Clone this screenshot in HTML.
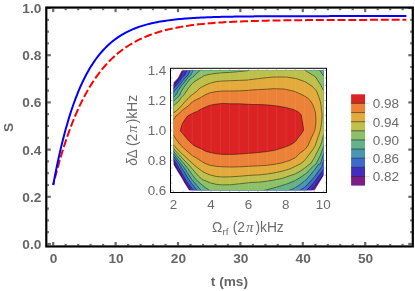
<!DOCTYPE html>
<html><head><meta charset="utf-8"><title>plot</title>
<style>html,body{margin:0;padding:0;background:#fff}svg{display:block}text{font-family:"Liberation Sans",Arial,sans-serif}</style></head><body>
<svg width="415" height="291" viewBox="0 0 415 291">
<rect width="415" height="291" fill="#fff"/>
<defs><clipPath id="c"><polygon points="173.60,82.60 177.90,78.10 181.70,70.50 323.50,70.50 323.50,175.50 320.00,181.50 317.20,186.10 314.70,190.30 189.00,190.30 187.60,188.00 184.70,183.40 181.30,177.50 177.10,170.70 173.60,164.80"/></clipPath></defs>
<polyline points="53.20,185.00 53.27,184.70 53.42,184.09 53.63,183.27 53.88,182.27 54.17,181.11 54.49,179.82 54.85,178.40 55.25,176.87 55.67,175.23 56.13,173.50 56.61,171.68 57.12,169.79 57.65,167.82 58.21,165.79 58.80,163.70 59.41,161.56 60.04,159.36 60.70,157.13 61.37,154.85 62.07,152.54 62.79,150.21 63.53,147.85 64.29,145.46 65.08,143.07 65.88,140.65 66.70,138.23 67.54,135.80 68.40,133.37 69.28,130.94 70.17,128.51 71.09,126.09 72.02,123.67 72.97,121.27 73.94,118.88 74.92,116.50 75.92,114.15 76.94,111.81 77.97,109.49 79.03,107.19 80.09,104.92 81.18,102.68 82.28,100.46 83.39,98.27 84.52,96.11 85.67,93.99 86.83,91.89 88.01,89.83 89.20,87.80 90.41,85.81 91.63,83.85 92.87,81.92 94.12,80.03 95.39,78.18 96.67,76.37 97.96,74.59 99.27,72.85 100.60,71.15 101.93,69.48 103.29,67.85 104.65,66.26 106.03,64.71 107.42,63.19 108.83,61.72 110.25,60.27 111.68,58.87 113.13,57.50 114.59,56.17 116.06,54.87 117.54,53.61 119.04,52.38 120.55,51.19 122.08,50.03 123.62,48.91 125.17,47.82 126.73,46.76 128.30,45.73 129.89,44.74 131.49,43.77 133.10,42.84 134.73,41.93 136.36,41.06 138.01,40.21 139.67,39.39 141.35,38.60 143.03,37.84 144.73,37.10 146.44,36.38 148.16,35.70 149.89,35.03 151.63,34.39 153.39,33.77 155.16,33.18 156.94,32.60 158.73,32.05 160.53,31.52 162.34,31.00 164.17,30.51 166.00,30.04 167.85,29.58 169.71,29.14 171.58,28.72 173.46,28.32 175.35,27.93 177.25,27.56 179.17,27.20 181.09,26.86 183.03,26.53 184.97,26.21 186.93,25.91 188.90,25.62 190.88,25.34 192.87,25.08 194.87,24.82 196.88,24.58 198.90,24.35 200.94,24.13 202.98,23.91 205.03,23.71 207.10,23.52 209.17,23.33 211.26,23.15 213.35,22.99 215.46,22.82 217.57,22.67 219.70,22.52 221.83,22.38 223.98,22.25 226.14,22.12 228.30,22.00 230.48,21.89 232.67,21.78 234.87,21.67 237.07,21.58 239.29,21.48 241.52,21.39 243.75,21.31 246.00,21.22 248.26,21.15 250.52,21.07 252.80,21.00 255.08,20.94 257.38,20.88 259.69,20.82 262.00,20.76 264.33,20.71 266.66,20.66 269.00,20.61 271.36,20.56 273.72,20.52 276.09,20.48 278.48,20.44 280.87,20.40 283.27,20.37 285.68,20.34 288.10,20.30 290.53,20.28 292.97,20.25 295.42,20.22 297.87,20.20 300.34,20.17 302.82,20.15 305.30,20.13 307.80,20.11 310.30,20.09 312.81,20.07 315.34,20.06 317.87,20.04 320.41,20.03 322.96,20.01 325.51,20.00 328.08,19.99 330.66,19.98 333.24,19.97 335.84,19.96 338.44,19.95 341.05,19.94 343.68,19.93 346.31,19.92 348.95,19.91 351.59,19.91 354.25,19.90 356.92,19.89 359.59,19.89 362.27,19.88 364.97,19.88 367.67,19.87 370.38,19.87 373.09,19.86 375.82,19.86 378.56,19.85 381.30,19.85 384.05,19.85 386.81,19.84 389.58,19.84 392.36,19.84 395.15,19.84 397.95,19.83 400.75,19.83 403.56,19.83 406.38,19.83" fill="none" stroke="#f00" stroke-width="2" stroke-dasharray="8 2.83" stroke-dashoffset="3.9"/>
<polyline points="53.20,185.00 53.27,184.60 53.42,183.80 53.63,182.71 53.88,181.38 54.17,179.85 54.49,178.15 54.85,176.28 55.25,174.27 55.67,172.13 56.13,169.88 56.61,167.52 57.12,165.07 57.65,162.53 58.21,159.93 58.80,157.25 59.41,154.53 60.04,151.75 60.70,148.93 61.37,146.08 62.07,143.20 62.79,140.30 63.53,137.38 64.29,134.46 65.08,131.53 65.88,128.60 66.70,125.68 67.54,122.77 68.40,119.87 69.28,116.99 70.17,114.13 71.09,111.30 72.02,108.50 72.97,105.73 73.94,102.99 74.92,100.30 75.92,97.64 76.94,95.02 77.97,92.44 79.03,89.91 80.09,87.43 81.18,85.00 82.28,82.61 83.39,80.27 84.52,77.99 85.67,75.75 86.83,73.57 88.01,71.45 89.20,69.37 90.41,67.35 91.63,65.38 92.87,63.46 94.12,61.60 95.39,59.79 96.67,58.03 97.96,56.33 99.27,54.67 100.60,53.07 101.93,51.52 103.29,50.02 104.65,48.57 106.03,47.16 107.42,45.81 108.83,44.50 110.25,43.24 111.68,42.02 113.13,40.84 114.59,39.71 116.06,38.62 117.54,37.58 119.04,36.57 120.55,35.60 122.08,34.67 123.62,33.78 125.17,32.92 126.73,32.10 128.30,31.31 129.89,30.56 131.49,29.84 133.10,29.14 134.73,28.48 136.36,27.85 138.01,27.24 139.67,26.67 141.35,26.12 143.03,25.59 144.73,25.09 146.44,24.61 148.16,24.15 149.89,23.72 151.63,23.30 153.39,22.91 155.16,22.53 156.94,22.18 158.73,21.84 160.53,21.52 162.34,21.21 164.17,20.92 166.00,20.64 167.85,20.38 169.71,20.14 171.58,19.90 173.46,19.68 175.35,19.47 177.25,19.27 179.17,19.08 181.09,18.90 183.03,18.73 184.97,18.57 186.93,18.42 188.90,18.28 190.88,18.15 192.87,18.02 194.87,17.90 196.88,17.79 198.90,17.68 200.94,17.58 202.98,17.49 205.03,17.40 207.10,17.32 209.17,17.24 211.26,17.17 213.35,17.10 215.46,17.03 217.57,16.97 219.70,16.91 221.83,16.86 223.98,16.81 226.14,16.76 228.30,16.72 230.48,16.68 232.67,16.64 234.87,16.60 237.07,16.57 239.29,16.53 241.52,16.50 243.75,16.48 246.00,16.45 248.26,16.43 250.52,16.40 252.80,16.38 255.08,16.36 257.38,16.34 259.69,16.33 262.00,16.31 264.33,16.29 266.66,16.28 269.00,16.27 271.36,16.26 273.72,16.24 276.09,16.23 278.48,16.22 280.87,16.21 283.27,16.21 285.68,16.20 288.10,16.19 290.53,16.18 292.97,16.18 295.42,16.17 297.87,16.17 300.34,16.16 302.82,16.16 305.30,16.15 307.80,16.15 310.30,16.14 312.81,16.14 315.34,16.14 317.87,16.13 320.41,16.13 322.96,16.13 325.51,16.13 328.08,16.13 330.66,16.12 333.24,16.12 335.84,16.12 338.44,16.12 341.05,16.12 343.68,16.12 346.31,16.11 348.95,16.11 351.59,16.11 354.25,16.11 356.92,16.11 359.59,16.11 362.27,16.11 364.97,16.11 367.67,16.11 370.38,16.11 373.09,16.11 375.82,16.11 378.56,16.10 381.30,16.10 384.05,16.10 386.81,16.10 389.58,16.10 392.36,16.10 395.15,16.10 397.95,16.10 400.75,16.10 403.56,16.10 406.38,16.10" fill="none" stroke="#00f" stroke-width="2"/>
<g stroke="#6a6a6a" stroke-width="2.2">
<line x1="53.2" y1="245.5" x2="53.2" y2="242.0"/>
<line x1="53.2" y1="8.6" x2="53.2" y2="12.1"/>
<line x1="65.7" y1="245.5" x2="65.7" y2="243.9"/>
<line x1="65.7" y1="8.6" x2="65.7" y2="10.2"/>
<line x1="78.2" y1="245.5" x2="78.2" y2="243.9"/>
<line x1="78.2" y1="8.6" x2="78.2" y2="10.2"/>
<line x1="90.6" y1="245.5" x2="90.6" y2="243.9"/>
<line x1="90.6" y1="8.6" x2="90.6" y2="10.2"/>
<line x1="103.1" y1="245.5" x2="103.1" y2="243.9"/>
<line x1="103.1" y1="8.6" x2="103.1" y2="10.2"/>
<line x1="115.6" y1="245.5" x2="115.6" y2="242.0"/>
<line x1="115.6" y1="8.6" x2="115.6" y2="12.1"/>
<line x1="128.1" y1="245.5" x2="128.1" y2="243.9"/>
<line x1="128.1" y1="8.6" x2="128.1" y2="10.2"/>
<line x1="140.6" y1="245.5" x2="140.6" y2="243.9"/>
<line x1="140.6" y1="8.6" x2="140.6" y2="10.2"/>
<line x1="153.0" y1="245.5" x2="153.0" y2="243.9"/>
<line x1="153.0" y1="8.6" x2="153.0" y2="10.2"/>
<line x1="165.5" y1="245.5" x2="165.5" y2="243.9"/>
<line x1="165.5" y1="8.6" x2="165.5" y2="10.2"/>
<line x1="178.0" y1="245.5" x2="178.0" y2="242.0"/>
<line x1="178.0" y1="8.6" x2="178.0" y2="12.1"/>
<line x1="190.5" y1="245.5" x2="190.5" y2="243.9"/>
<line x1="190.5" y1="8.6" x2="190.5" y2="10.2"/>
<line x1="203.0" y1="245.5" x2="203.0" y2="243.9"/>
<line x1="203.0" y1="8.6" x2="203.0" y2="10.2"/>
<line x1="215.4" y1="245.5" x2="215.4" y2="243.9"/>
<line x1="215.4" y1="8.6" x2="215.4" y2="10.2"/>
<line x1="227.9" y1="245.5" x2="227.9" y2="243.9"/>
<line x1="227.9" y1="8.6" x2="227.9" y2="10.2"/>
<line x1="240.4" y1="245.5" x2="240.4" y2="242.0"/>
<line x1="240.4" y1="8.6" x2="240.4" y2="12.1"/>
<line x1="252.9" y1="245.5" x2="252.9" y2="243.9"/>
<line x1="252.9" y1="8.6" x2="252.9" y2="10.2"/>
<line x1="265.4" y1="245.5" x2="265.4" y2="243.9"/>
<line x1="265.4" y1="8.6" x2="265.4" y2="10.2"/>
<line x1="277.8" y1="245.5" x2="277.8" y2="243.9"/>
<line x1="277.8" y1="8.6" x2="277.8" y2="10.2"/>
<line x1="290.3" y1="245.5" x2="290.3" y2="243.9"/>
<line x1="290.3" y1="8.6" x2="290.3" y2="10.2"/>
<line x1="302.8" y1="245.5" x2="302.8" y2="242.0"/>
<line x1="302.8" y1="8.6" x2="302.8" y2="12.1"/>
<line x1="315.3" y1="245.5" x2="315.3" y2="243.9"/>
<line x1="315.3" y1="8.6" x2="315.3" y2="10.2"/>
<line x1="327.8" y1="245.5" x2="327.8" y2="243.9"/>
<line x1="327.8" y1="8.6" x2="327.8" y2="10.2"/>
<line x1="340.2" y1="245.5" x2="340.2" y2="243.9"/>
<line x1="340.2" y1="8.6" x2="340.2" y2="10.2"/>
<line x1="352.7" y1="245.5" x2="352.7" y2="243.9"/>
<line x1="352.7" y1="8.6" x2="352.7" y2="10.2"/>
<line x1="365.2" y1="245.5" x2="365.2" y2="242.0"/>
<line x1="365.2" y1="8.6" x2="365.2" y2="12.1"/>
<line x1="377.7" y1="245.5" x2="377.7" y2="243.9"/>
<line x1="377.7" y1="8.6" x2="377.7" y2="10.2"/>
<line x1="390.2" y1="245.5" x2="390.2" y2="243.9"/>
<line x1="390.2" y1="8.6" x2="390.2" y2="10.2"/>
<line x1="402.6" y1="245.5" x2="402.6" y2="243.9"/>
<line x1="402.6" y1="8.6" x2="402.6" y2="10.2"/>
<line x1="47.3" y1="244.0" x2="50.8" y2="244.0"/>
<line x1="411.8" y1="244.0" x2="408.3" y2="244.0"/>
<line x1="47.3" y1="232.2" x2="48.9" y2="232.2"/>
<line x1="411.8" y1="232.2" x2="410.2" y2="232.2"/>
<line x1="47.3" y1="220.4" x2="48.9" y2="220.4"/>
<line x1="411.8" y1="220.4" x2="410.2" y2="220.4"/>
<line x1="47.3" y1="208.6" x2="48.9" y2="208.6"/>
<line x1="411.8" y1="208.6" x2="410.2" y2="208.6"/>
<line x1="47.3" y1="196.8" x2="50.8" y2="196.8"/>
<line x1="411.8" y1="196.8" x2="408.3" y2="196.8"/>
<line x1="47.3" y1="185.0" x2="48.9" y2="185.0"/>
<line x1="411.8" y1="185.0" x2="410.2" y2="185.0"/>
<line x1="47.3" y1="173.2" x2="48.9" y2="173.2"/>
<line x1="411.8" y1="173.2" x2="410.2" y2="173.2"/>
<line x1="47.3" y1="161.4" x2="48.9" y2="161.4"/>
<line x1="411.8" y1="161.4" x2="410.2" y2="161.4"/>
<line x1="47.3" y1="149.6" x2="50.8" y2="149.6"/>
<line x1="411.8" y1="149.6" x2="408.3" y2="149.6"/>
<line x1="47.3" y1="137.8" x2="48.9" y2="137.8"/>
<line x1="411.8" y1="137.8" x2="410.2" y2="137.8"/>
<line x1="47.3" y1="126.0" x2="48.9" y2="126.0"/>
<line x1="411.8" y1="126.0" x2="410.2" y2="126.0"/>
<line x1="47.3" y1="114.2" x2="48.9" y2="114.2"/>
<line x1="411.8" y1="114.2" x2="410.2" y2="114.2"/>
<line x1="47.3" y1="102.4" x2="50.8" y2="102.4"/>
<line x1="411.8" y1="102.4" x2="408.3" y2="102.4"/>
<line x1="47.3" y1="90.6" x2="48.9" y2="90.6"/>
<line x1="411.8" y1="90.6" x2="410.2" y2="90.6"/>
<line x1="47.3" y1="78.8" x2="48.9" y2="78.8"/>
<line x1="411.8" y1="78.8" x2="410.2" y2="78.8"/>
<line x1="47.3" y1="67.0" x2="48.9" y2="67.0"/>
<line x1="411.8" y1="67.0" x2="410.2" y2="67.0"/>
<line x1="47.3" y1="55.2" x2="50.8" y2="55.2"/>
<line x1="411.8" y1="55.2" x2="408.3" y2="55.2"/>
<line x1="47.3" y1="43.4" x2="48.9" y2="43.4"/>
<line x1="411.8" y1="43.4" x2="410.2" y2="43.4"/>
<line x1="47.3" y1="31.6" x2="48.9" y2="31.6"/>
<line x1="411.8" y1="31.6" x2="410.2" y2="31.6"/>
<line x1="47.3" y1="19.8" x2="48.9" y2="19.8"/>
<line x1="411.8" y1="19.8" x2="410.2" y2="19.8"/>
<line x1="47.3" y1="8.0" x2="50.8" y2="8.0"/>
<line x1="411.8" y1="8.0" x2="408.3" y2="8.0"/>
</g>
<rect x="46.3" y="7.55" width="366.5" height="238.9" fill="none" stroke="#000" stroke-width="2.2"/>
<g font-size="13.7" font-weight="bold" fill="#666">
<text x="41.3" y="248.9" text-anchor="end">0.0</text>
<text x="41.3" y="201.7" text-anchor="end">0.2</text>
<text x="41.3" y="154.5" text-anchor="end">0.4</text>
<text x="41.3" y="107.3" text-anchor="end">0.6</text>
<text x="41.3" y="60.1" text-anchor="end">0.8</text>
<text x="41.3" y="12.9" text-anchor="end">1.0</text>
<text x="53.6" y="262.7" text-anchor="middle">0</text>
<text x="116.0" y="262.7" text-anchor="middle">10</text>
<text x="178.4" y="262.7" text-anchor="middle">20</text>
<text x="240.8" y="262.7" text-anchor="middle">30</text>
<text x="303.2" y="262.7" text-anchor="middle">40</text>
<text x="365.6" y="262.7" text-anchor="middle">50</text>
<text x="229.4" y="285.6" text-anchor="middle">t (ms)</text>
<text transform="translate(12.6,127.5) rotate(-90)" text-anchor="middle">S</text>
</g>
<g clip-path="url(#c)">
<rect x="168" y="64" width="162" height="132" fill="#7C1C87"/>
<polygon points="173.70,85.00 174.10,84.40 177.10,80.70 180.40,76.00 183.40,70.70 183.40,66.00 328.00,66.00 328.00,174.10 323.50,174.10 322.50,176.00 320.10,179.40 317.20,183.20 314.30,187.10 311.50,190.30 311.50,195.00 190.30,195.00 190.30,190.30 188.90,188.00 185.90,183.40 182.50,177.50 178.30,170.70 174.50,164.00 173.70,161.50 170.00,161.50 170.00,85.00" fill="#422DBE" stroke="#000" stroke-opacity="0.7" stroke-width="0.65" stroke-linejoin="round"/>
<polygon points="173.70,88.20 175.40,86.10 178.30,82.80 181.30,78.50 184.70,74.70 186.80,70.70 186.80,66.00 328.00,66.00 328.00,169.80 323.50,169.80 321.60,172.20 318.70,176.00 315.80,179.90 312.90,183.70 309.50,187.60 306.50,190.30 306.50,195.00 193.50,195.00 193.50,190.30 191.80,188.00 190.10,185.90 186.30,180.90 183.00,175.00 179.60,169.10 176.60,164.00 175.40,161.90 173.70,159.40 170.00,159.40 170.00,88.20" fill="#3E69CD" stroke="#000" stroke-opacity="0.7" stroke-width="0.65" stroke-linejoin="round"/>
<polygon points="173.70,92.30 174.50,90.80 177.90,87.00 181.30,82.80 184.70,78.10 188.00,75.20 190.10,70.70 190.10,66.00 328.00,66.00 328.00,160.50 323.60,160.50 322.40,164.00 322.00,166.40 319.60,169.80 316.80,173.60 313.90,177.50 311.00,180.80 307.60,184.40 303.80,187.80 299.90,190.30 299.90,195.00 197.00,195.00 197.00,190.30 195.20,188.00 192.20,184.20 188.90,179.60 185.50,174.10 182.10,168.60 179.20,164.00 177.90,162.30 175.80,159.40 173.70,156.40 170.00,156.40 170.00,92.30" fill="#4896B4" stroke="#000" stroke-opacity="0.7" stroke-width="0.65" stroke-linejoin="round"/>
<polygon points="173.70,97.10 175.80,95.00 177.70,92.00 177.90,90.80 181.30,86.10 184.70,81.90 187.60,78.10 191.00,74.70 193.10,70.70 193.10,66.00 328.00,66.00 328.00,153.60 323.60,153.60 322.60,157.00 321.40,160.50 320.30,164.00 318.70,164.20 317.70,165.40 314.80,169.30 311.90,173.10 309.10,176.50 305.70,179.90 301.80,183.20 298.20,185.80 293.70,188.50 289.10,190.40 289.10,195.00 201.00,195.00 201.00,190.30 199.00,188.00 194.80,183.00 191.40,178.80 188.00,173.70 184.70,168.60 181.30,164.00 178.30,160.20 175.80,156.90 173.70,153.90 170.00,153.90 170.00,97.10" fill="#64B28C" stroke="#000" stroke-opacity="0.7" stroke-width="0.65" stroke-linejoin="round"/>
<polygon points="173.70,100.90 176.60,98.30 179.60,95.40 181.00,92.00 183.80,87.40 187.20,82.80 190.10,79.00 193.10,76.90 196.50,73.50 199.80,70.70 199.80,66.00 319.70,66.00 319.70,70.50 323.20,75.50 328.00,75.50 328.00,146.20 323.60,146.20 322.60,149.30 321.40,152.40 320.30,155.50 318.70,158.60 317.20,161.70 316.00,164.00 314.40,165.00 311.90,167.50 309.00,170.70 305.60,173.80 301.70,176.50 299.90,177.70 294.50,180.80 288.30,183.50 282.20,185.40 276.00,187.30 270.80,188.70 264.50,190.30 264.50,195.00 209.40,195.00 209.40,190.30 205.00,187.40 202.40,185.10 198.10,181.70 194.30,177.50 191.00,172.90 187.60,168.20 184.20,164.00 182.10,161.50 179.20,158.10 176.20,154.80 173.70,151.40 170.00,151.40 170.00,100.90" fill="#8CC069" stroke="#000" stroke-opacity="0.7" stroke-width="0.65" stroke-linejoin="round"/>
<polygon points="173.70,105.50 175.80,103.80 178.70,101.30 181.30,97.50 183.80,95.00 185.90,92.00 188.40,88.20 191.00,84.90 193.90,82.00 197.00,80.00 200.00,78.30 204.50,75.50 208.80,74.50 215.00,73.50 222.00,72.80 231.30,72.30 240.10,71.50 248.90,70.50 249.00,66.00 305.30,66.00 305.30,70.50 315.40,76.80 321.00,85.50 323.20,90.00 328.00,90.00 328.00,134.60 323.60,134.60 322.60,138.50 321.80,142.00 320.70,145.10 319.10,148.20 317.60,151.30 316.00,154.30 314.50,157.40 312.60,160.50 310.40,164.00 309.10,164.50 305.80,167.20 302.20,169.80 298.50,172.20 294.50,174.20 289.60,175.80 282.10,178.40 274.60,179.90 267.00,181.20 259.50,182.10 252.00,182.40 240.10,183.70 231.30,184.70 222.60,184.90 216.30,184.30 210.00,182.80 205.00,180.60 202.40,179.60 198.60,176.20 194.80,172.00 191.40,167.80 188.00,164.00 186.30,162.30 183.00,159.00 179.60,155.20 176.20,151.80 173.70,148.40 170.00,148.40 170.00,105.50" fill="#BEC04B" stroke="#000" stroke-opacity="0.7" stroke-width="0.65" stroke-linejoin="round"/>
<polygon points="173.70,112.70 176.20,111.00 179.20,108.40 182.10,105.10 184.70,101.70 188.00,98.70 190.10,96.20 193.10,94.10 196.50,91.50 200.00,88.00 205.00,85.30 210.00,83.20 216.30,81.60 222.60,81.00 231.30,80.70 240.10,80.30 247.00,80.10 252.00,79.40 259.60,78.50 267.00,77.60 274.00,77.00 286.50,77.00 296.60,78.70 305.30,81.80 312.80,86.80 316.50,91.00 318.70,96.50 320.30,101.50 321.10,105.70 321.40,109.60 322.00,113.40 322.00,117.30 321.80,120.00 321.40,123.90 320.80,127.70 319.90,131.60 318.70,135.40 317.60,138.50 316.40,142.00 315.30,145.50 313.30,148.90 311.00,152.00 308.70,155.10 306.00,158.60 303.70,161.30 300.90,163.60 295.90,166.10 289.60,169.00 282.10,171.20 274.60,172.80 267.00,174.00 259.50,174.90 252.00,175.20 240.10,176.20 231.30,176.80 222.60,177.00 216.30,176.50 210.00,174.90 207.00,173.80 203.20,171.80 199.80,169.50 196.50,167.00 193.10,164.00 188.90,160.20 185.50,156.90 182.10,153.90 179.20,151.00 176.20,148.00 173.70,145.10 170.00,145.10 170.00,112.70" fill="#E3AA3C" stroke="#000" stroke-opacity="0.7" stroke-width="0.65" stroke-linejoin="round"/>
<polygon points="173.70,119.40 174.50,118.10 175.80,116.00 177.10,115.20 180.40,112.20 183.00,109.70 185.90,107.60 188.90,105.50 191.00,103.00 193.90,100.90 197.30,99.20 200.50,97.60 205.00,94.90 210.00,92.80 216.30,91.60 222.60,91.00 231.30,91.00 240.10,90.80 247.00,90.50 252.00,89.90 259.60,89.60 274.00,88.70 284.00,89.00 294.00,91.20 302.80,95.00 307.60,98.00 310.30,100.70 312.60,104.20 314.10,108.00 315.30,111.90 315.70,115.70 315.90,120.00 315.70,124.60 314.90,130.00 313.30,133.90 311.40,137.70 309.50,142.00 308.30,145.10 306.00,148.20 303.30,150.90 300.20,152.80 297.50,155.50 295.50,157.60 289.60,160.50 282.10,162.80 274.60,164.30 267.00,165.30 259.50,165.80 252.00,166.10 240.10,166.80 231.30,167.00 222.60,166.80 216.30,166.30 210.00,165.30 205.00,163.40 200.70,160.80 196.50,158.10 192.20,155.60 188.90,152.70 185.50,149.70 182.10,146.70 179.20,143.40 176.60,140.00 175.40,138.30 173.70,135.40 170.00,135.40 170.00,119.40" fill="#EC8237" stroke="#000" stroke-opacity="0.7" stroke-width="0.65" stroke-linejoin="round"/>
<polygon points="180.30,130.80 181.30,127.00 182.50,123.20 184.70,119.80 187.60,116.00 190.60,114.30 193.90,112.70 197.30,111.40 200.50,109.30 205.00,107.30 210.00,105.20 216.30,104.10 222.60,103.40 231.30,103.80 240.10,103.80 252.00,104.50 259.50,104.50 268.30,105.00 277.10,106.00 285.80,107.50 293.40,109.50 298.40,111.90 301.30,115.00 302.00,120.00 302.90,124.60 303.70,130.20 301.20,134.00 298.00,138.00 295.50,141.50 292.00,144.00 289.60,145.30 282.10,148.10 274.60,150.30 267.00,151.60 259.50,152.40 252.00,153.10 240.10,154.00 231.30,154.40 222.60,154.40 216.30,153.80 210.00,152.50 205.00,151.00 201.50,148.90 197.30,147.20 193.90,145.50 190.60,142.50 188.00,140.00 185.90,137.50 183.00,134.10" fill="#DB2324" stroke="#000" stroke-opacity="0.7" stroke-width="0.65" stroke-linejoin="round"/>
<line x1="182.9" y1="66" x2="182.9" y2="195" stroke="#fff" stroke-opacity="0.13" stroke-width="0.6"/>
<line x1="192.2" y1="66" x2="192.2" y2="195" stroke="#fff" stroke-opacity="0.13" stroke-width="0.6"/>
<line x1="201.6" y1="66" x2="201.6" y2="195" stroke="#fff" stroke-opacity="0.13" stroke-width="0.6"/>
<line x1="211.0" y1="66" x2="211.0" y2="195" stroke="#fff" stroke-opacity="0.13" stroke-width="0.6"/>
<line x1="220.3" y1="66" x2="220.3" y2="195" stroke="#fff" stroke-opacity="0.13" stroke-width="0.6"/>
<line x1="229.7" y1="66" x2="229.7" y2="195" stroke="#fff" stroke-opacity="0.13" stroke-width="0.6"/>
<line x1="239.1" y1="66" x2="239.1" y2="195" stroke="#fff" stroke-opacity="0.13" stroke-width="0.6"/>
<line x1="248.5" y1="66" x2="248.5" y2="195" stroke="#fff" stroke-opacity="0.13" stroke-width="0.6"/>
<line x1="257.8" y1="66" x2="257.8" y2="195" stroke="#fff" stroke-opacity="0.13" stroke-width="0.6"/>
<line x1="267.2" y1="66" x2="267.2" y2="195" stroke="#fff" stroke-opacity="0.13" stroke-width="0.6"/>
<line x1="276.6" y1="66" x2="276.6" y2="195" stroke="#fff" stroke-opacity="0.13" stroke-width="0.6"/>
<line x1="285.9" y1="66" x2="285.9" y2="195" stroke="#fff" stroke-opacity="0.13" stroke-width="0.6"/>
<line x1="295.3" y1="66" x2="295.3" y2="195" stroke="#fff" stroke-opacity="0.13" stroke-width="0.6"/>
<line x1="304.7" y1="66" x2="304.7" y2="195" stroke="#fff" stroke-opacity="0.13" stroke-width="0.6"/>
<line x1="314.0" y1="66" x2="314.0" y2="195" stroke="#fff" stroke-opacity="0.13" stroke-width="0.6"/>
</g>
<rect x="170.5" y="68.3" width="156" height="124.2" fill="none" stroke="#000" stroke-width="1"/>
<g stroke="#999" stroke-width="0.6">
<line x1="173.5" y1="192" x2="173.5" y2="190.6"/>
<line x1="173.5" y1="68.8" x2="173.5" y2="70.2"/>
<line x1="182.9" y1="192" x2="182.9" y2="190.6"/>
<line x1="182.9" y1="68.8" x2="182.9" y2="70.2"/>
<line x1="192.2" y1="192" x2="192.2" y2="190.6"/>
<line x1="192.2" y1="68.8" x2="192.2" y2="70.2"/>
<line x1="201.6" y1="192" x2="201.6" y2="190.6"/>
<line x1="201.6" y1="68.8" x2="201.6" y2="70.2"/>
<line x1="211.0" y1="192" x2="211.0" y2="190.6"/>
<line x1="211.0" y1="68.8" x2="211.0" y2="70.2"/>
<line x1="220.3" y1="192" x2="220.3" y2="190.6"/>
<line x1="220.3" y1="68.8" x2="220.3" y2="70.2"/>
<line x1="229.7" y1="192" x2="229.7" y2="190.6"/>
<line x1="229.7" y1="68.8" x2="229.7" y2="70.2"/>
<line x1="239.1" y1="192" x2="239.1" y2="190.6"/>
<line x1="239.1" y1="68.8" x2="239.1" y2="70.2"/>
<line x1="248.5" y1="192" x2="248.5" y2="190.6"/>
<line x1="248.5" y1="68.8" x2="248.5" y2="70.2"/>
<line x1="257.8" y1="192" x2="257.8" y2="190.6"/>
<line x1="257.8" y1="68.8" x2="257.8" y2="70.2"/>
<line x1="267.2" y1="192" x2="267.2" y2="190.6"/>
<line x1="267.2" y1="68.8" x2="267.2" y2="70.2"/>
<line x1="276.6" y1="192" x2="276.6" y2="190.6"/>
<line x1="276.6" y1="68.8" x2="276.6" y2="70.2"/>
<line x1="285.9" y1="192" x2="285.9" y2="190.6"/>
<line x1="285.9" y1="68.8" x2="285.9" y2="70.2"/>
<line x1="295.3" y1="192" x2="295.3" y2="190.6"/>
<line x1="295.3" y1="68.8" x2="295.3" y2="70.2"/>
<line x1="304.7" y1="192" x2="304.7" y2="190.6"/>
<line x1="304.7" y1="68.8" x2="304.7" y2="70.2"/>
<line x1="314.0" y1="192" x2="314.0" y2="190.6"/>
<line x1="314.0" y1="68.8" x2="314.0" y2="70.2"/>
<line x1="323.4" y1="192" x2="323.4" y2="190.6"/>
<line x1="323.4" y1="68.8" x2="323.4" y2="70.2"/>
<line x1="171" y1="70.5" x2="172.4" y2="70.5"/>
<line x1="326" y1="70.5" x2="324.6" y2="70.5"/>
<line x1="171" y1="78.0" x2="172.4" y2="78.0"/>
<line x1="326" y1="78.0" x2="324.6" y2="78.0"/>
<line x1="171" y1="85.5" x2="172.4" y2="85.5"/>
<line x1="326" y1="85.5" x2="324.6" y2="85.5"/>
<line x1="171" y1="93.0" x2="172.4" y2="93.0"/>
<line x1="326" y1="93.0" x2="324.6" y2="93.0"/>
<line x1="171" y1="100.5" x2="172.4" y2="100.5"/>
<line x1="326" y1="100.5" x2="324.6" y2="100.5"/>
<line x1="171" y1="108.0" x2="172.4" y2="108.0"/>
<line x1="326" y1="108.0" x2="324.6" y2="108.0"/>
<line x1="171" y1="115.4" x2="172.4" y2="115.4"/>
<line x1="326" y1="115.4" x2="324.6" y2="115.4"/>
<line x1="171" y1="122.9" x2="172.4" y2="122.9"/>
<line x1="326" y1="122.9" x2="324.6" y2="122.9"/>
<line x1="171" y1="130.4" x2="172.4" y2="130.4"/>
<line x1="326" y1="130.4" x2="324.6" y2="130.4"/>
<line x1="171" y1="137.9" x2="172.4" y2="137.9"/>
<line x1="326" y1="137.9" x2="324.6" y2="137.9"/>
<line x1="171" y1="145.4" x2="172.4" y2="145.4"/>
<line x1="326" y1="145.4" x2="324.6" y2="145.4"/>
<line x1="171" y1="152.9" x2="172.4" y2="152.9"/>
<line x1="326" y1="152.9" x2="324.6" y2="152.9"/>
<line x1="171" y1="160.4" x2="172.4" y2="160.4"/>
<line x1="326" y1="160.4" x2="324.6" y2="160.4"/>
<line x1="171" y1="167.9" x2="172.4" y2="167.9"/>
<line x1="326" y1="167.9" x2="324.6" y2="167.9"/>
<line x1="171" y1="175.4" x2="172.4" y2="175.4"/>
<line x1="326" y1="175.4" x2="324.6" y2="175.4"/>
<line x1="171" y1="182.9" x2="172.4" y2="182.9"/>
<line x1="326" y1="182.9" x2="324.6" y2="182.9"/>
<line x1="171" y1="190.3" x2="172.4" y2="190.3"/>
<line x1="326" y1="190.3" x2="324.6" y2="190.3"/>
</g>
<g font-size="13.4" fill="#6b6b6b">
<text x="166.3" y="75.1" text-anchor="end">1.4</text>
<text x="166.3" y="105.0" text-anchor="end">1.2</text>
<text x="166.3" y="135.0" text-anchor="end">1.0</text>
<text x="166.3" y="164.9" text-anchor="end">0.8</text>
<text x="166.3" y="194.9" text-anchor="end">0.6</text>
<text x="173.4" y="209.4" text-anchor="middle">2</text>
<text x="210.9" y="209.4" text-anchor="middle">4</text>
<text x="248.4" y="209.4" text-anchor="middle">6</text>
<text x="285.8" y="209.4" text-anchor="middle">8</text>
<text x="323.3" y="209.4" text-anchor="middle">10</text>
<text font-size="13.8" y="232.3"><tspan x="212">Ω</tspan><tspan font-size="9.8" x="222.5" dy="2.3">rf</tspan><tspan x="232.7" dy="-2.3">(2</tspan><tspan font-family="'Liberation Serif','DejaVu Serif',serif" font-style="italic" font-size="15" x="246.0">π</tspan><tspan x="255.4">)</tspan><tspan x="260">kHz</tspan></text>
<text font-size="13.8" transform="translate(136.5,165.4) rotate(-90)"><tspan x="-0.3" font-style="italic">δ</tspan><tspan x="6.9">Δ</tspan><tspan x="19.4">(2</tspan><tspan font-family="'Liberation Serif','DejaVu Serif',serif" font-style="italic" font-size="15" x="32.7">π</tspan><tspan x="42.1">)</tspan><tspan x="46.7">kHz</tspan></text>
</g>
<rect x="351.1" y="94.30" width="13.9" height="9.33" fill="#DB2324"/>
<rect x="351.1" y="103.43" width="13.9" height="9.33" fill="#EC8237"/>
<rect x="351.1" y="112.56" width="13.9" height="9.33" fill="#E3AA3C"/>
<rect x="351.1" y="121.69" width="13.9" height="9.33" fill="#BEC04B"/>
<rect x="351.1" y="130.82" width="13.9" height="9.33" fill="#8CC069"/>
<rect x="351.1" y="139.95" width="13.9" height="9.33" fill="#64B28C"/>
<rect x="351.1" y="149.08" width="13.9" height="9.33" fill="#4896B4"/>
<rect x="351.1" y="158.21" width="13.9" height="9.33" fill="#3E69CD"/>
<rect x="351.1" y="167.34" width="13.9" height="9.33" fill="#422DBE"/>
<rect x="351.1" y="176.47" width="13.9" height="9.13" fill="#7C1C87"/>
<line x1="351.1" y1="103.43" x2="365" y2="103.43" stroke="#000" stroke-opacity="0.6" stroke-width="0.8"/>
<line x1="351.1" y1="112.56" x2="365" y2="112.56" stroke="#000" stroke-opacity="0.6" stroke-width="0.8"/>
<line x1="351.1" y1="121.69" x2="365" y2="121.69" stroke="#000" stroke-opacity="0.6" stroke-width="0.8"/>
<line x1="351.1" y1="130.82" x2="365" y2="130.82" stroke="#000" stroke-opacity="0.6" stroke-width="0.8"/>
<line x1="351.1" y1="139.95" x2="365" y2="139.95" stroke="#000" stroke-opacity="0.6" stroke-width="0.8"/>
<line x1="351.1" y1="149.08" x2="365" y2="149.08" stroke="#000" stroke-opacity="0.6" stroke-width="0.8"/>
<line x1="351.1" y1="158.21" x2="365" y2="158.21" stroke="#000" stroke-opacity="0.6" stroke-width="0.8"/>
<line x1="351.1" y1="167.34" x2="365" y2="167.34" stroke="#000" stroke-opacity="0.6" stroke-width="0.8"/>
<line x1="351.1" y1="176.47" x2="365" y2="176.47" stroke="#000" stroke-opacity="0.6" stroke-width="0.8"/>
<g font-size="13.5" fill="#6b6b6b">
<line x1="365" y1="103.43" x2="369.5" y2="103.43" stroke="#ccc" stroke-width="0.6"/>
<text x="372.8" y="108.2">0.98</text>
<line x1="365" y1="121.69" x2="369.5" y2="121.69" stroke="#ccc" stroke-width="0.6"/>
<text x="372.8" y="126.5">0.94</text>
<line x1="365" y1="139.95" x2="369.5" y2="139.95" stroke="#ccc" stroke-width="0.6"/>
<text x="372.8" y="144.8">0.90</text>
<line x1="365" y1="158.21" x2="369.5" y2="158.21" stroke="#ccc" stroke-width="0.6"/>
<text x="372.8" y="163.0">0.86</text>
<line x1="365" y1="176.47" x2="369.5" y2="176.47" stroke="#ccc" stroke-width="0.6"/>
<text x="372.8" y="181.3">0.82</text>
</g>
</svg></body></html>
